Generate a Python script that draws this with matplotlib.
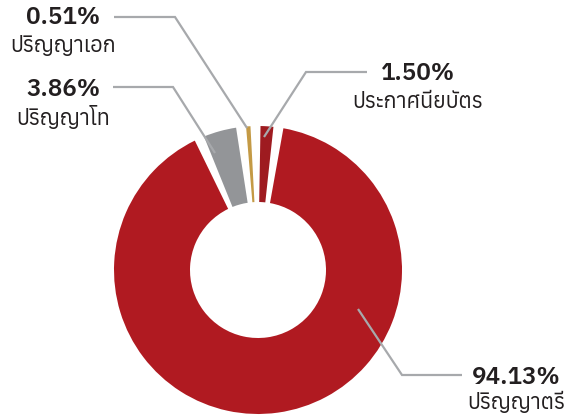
import matplotlib
matplotlib.use("Agg")
import matplotlib.pyplot as plt
from matplotlib.patches import Wedge

# ---- data (clockwise from 12 o'clock) ----
categories = ["ประกาศนียบัตร", "ปริญญาตรี", "ปริญญาโท", "ปริญญาเอก"]
values = [1.50, 94.13, 3.86, 0.51]
pct_labels = ["1.50%", "94.13%", "3.86%", "0.51%"]
colors = ["#9E1B20", "#B01A21", "#939598", "#C49A45"]

W, H = 569, 418
fig = plt.figure(figsize=(W / 100, H / 100), dpi=100)
ax = fig.add_axes([0, 0, 1, 1])
ax.set_xlim(0, W)
ax.set_ylim(0, H)
ax.set_aspect('equal')
ax.axis('off')

def Y(py):
    return H - py

cx, cy = 258, Y(270)
r_out, r_in = 144, 68
gap = 4.0          # angular gap between slices (style)
start_cw = 1.0     # first slice starts 1 degree right of 12 o'clock

total = sum(values)
avail = 360 - gap * len(values)
pos = start_cw
for v, c in zip(values, colors):
    span = v / total * avail
    theta2 = 90 - pos
    theta1 = 90 - (pos + span)
    ax.add_patch(Wedge((cx, cy), r_out, theta1, theta2, width=r_out - r_in,
                       facecolor=c, edgecolor='none'))
    pos += span + gap

line_col = "#A7A9AC"
lw = 1.6
# leader lines (pixel positions)
leaders = [
    [(264, 137), (306, 72), (367, 72)],      # 1.50%
    [(358, 309), (402, 375), (462, 375)],    # 94.13%
    [(215, 153), (173, 87), (113, 87)],      # 3.86%
    [(247, 128), (175, 17), (114, 17)],      # 0.51%
]
for pts in leaders:
    ax.plot([p[0] for p in pts], [Y(p[1]) for p in pts], color=line_col,
            lw=lw, solid_capstyle='butt', solid_joinstyle='miter')

num_font = ['IBM Plex Sans Thai', 'DejaVu Sans']
thai_font = ['Anuphan', 'IBM Plex Sans Thai', 'DejaVu Sans']
txt_col = "#231F20"
# label anchor positions (pixel): number centre, category centre
label_pos = [
    ((417.5, 74), (417.5, 102)),
    ((516, 377), (516, 403)),
    ((63.5, 90), (63, 118)),
    ((63.5, 18), (63.5, 46)),
]
for (np_, cp), pl, cat in zip(label_pos, pct_labels, categories):
    ax.text(np_[0], Y(np_[1]), pl, ha='center', va='center', fontsize=17.5,
            fontweight='semibold', family=num_font, color=txt_col)
    ax.text(cp[0], Y(cp[1]), cat, ha='center', va='center', fontsize=15.5,
            family=thai_font, color=txt_col)

fig.savefig("out.png", dpi=100)
